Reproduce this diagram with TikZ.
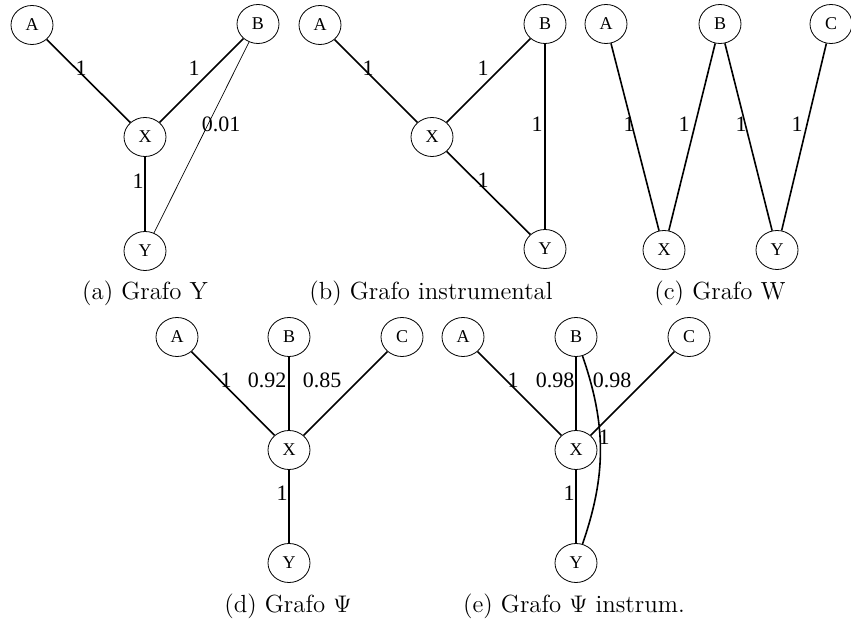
\documentclass[tikz,border=0pt]{standalone}
\usepackage{fontspec}
\newfontfamily\labelfont{Liberation Serif}
\usetikzlibrary{shapes.geometric}
\begin{document}
\begin{tikzpicture}[x=.5pt,y=-.5pt,line width=.8pt,
  var/.style={ellipse,draw,line width=.4pt,minimum width=21pt,minimum height=19.5pt,inner sep=0pt,font=\labelfont\fontsize{9}{9}\selectfont},
  wt/.style={inner sep=0pt,font=\labelfont\fontsize{11}{11}\selectfont},
  captext/.style={font=\fontsize{12.4}{14}\selectfont}]
\useasboundingbox (0,0) rectangle (851,630);
% (a) Grafo Y
\node[var] (aA) at (32,25) {A}; \node[var] (aB) at (258,24) {B};
\node[var] (aX) at (145,137) {X}; \node[var] (aY) at (145,251) {Y};
\draw (aA)--(aX); \draw (aB)--(aX); \draw (aX)--(aY); \draw[line width=.35pt] (aB)--(aY);
\node[wt] (aw1) at (81,68) {1}; \node[wt] (aw2) at (194,68) {1};
\node[wt] (aw3) at (221,124) {0.01}; \node[wt] (aw4) at (138,181) {1};
\node[captext] (capa) at (145,293) {(a) Grafo Y};
% (b) Grafo instrumental
\node[var] (bA) at (320,25) {A}; \node[var] (bB) at (545,24) {B};
\node[var] (bX) at (432,137) {X}; \node[var] (bY) at (545,249) {Y};
\draw (bA)--(bX); \draw (bX)--(bB); \draw (bB)--(bY); \draw (bX)--(bY);
\node[wt] (bw1) at (368,68) {1}; \node[wt] (bw2) at (483,68) {1};
\node[wt] (bw3) at (537,124) {1}; \node[wt] (bw4) at (483,180) {1};
\node[captext] (capb) at (431,293) {(b) Grafo instrumental};
% (c) Grafo W
\node[var] (cA) at (606,24) {A}; \node[var] (cB) at (720,24) {B}; \node[var] (cC) at (831,24) {C};
\node[var] (cX) at (664,250) {X}; \node[var] (cY) at (777,250) {Y};
\draw (cA)--(cX); \draw (cB)--(cX); \draw (cB)--(cY); \draw (cC)--(cY);
\node[wt] (cw1) at (629,124) {1}; \node[wt] (cw2) at (684,124) {1};
\node[wt] (cw3) at (741,124) {1}; \node[wt] (cw4) at (797,124) {1};
\node[captext] (capc) at (720,293) {(c) Grafo W};
% (d) Grafo Psi
\node[var] (dA) at (177,337) {A}; \node[var] (dB) at (289,337) {B}; \node[var] (dC) at (402,337) {C};
\node[var] (dX) at (289,450) {X}; \node[var] (dY) at (289,563) {Y};
\draw (dA)--(dX); \draw (dB)--(dX); \draw (dC)--(dX); \draw (dX)--(dY);
\node[wt] (dw1) at (226,380) {1}; \node[wt] (dw2) at (267,380) {0.92};
\node[wt] (dw3) at (322,380) {0.85}; \node[wt] (dw4) at (282,493) {1};
\node[captext] (capd) at (288,606) {(d) Grafo $\Psi$};
% (e) Grafo Psi instrum.
\node[var] (eA) at (463,337) {A}; \node[var] (eB) at (576,337) {B}; \node[var] (eC) at (689,337) {C};
\node[var] (eX) at (576,450) {X}; \node[var] (eY) at (576,563) {Y};
\draw (eA)--(eX); \draw (eB)--(eX); \draw (eC)--(eX); \draw (eX)--(eY);
\draw (eB) to[bend left=19] (eY);
\node[wt] (ew1) at (513,380) {1}; \node[wt] (ew2) at (555,380) {0.98};
\node[wt] (ew3) at (612,380) {0.98}; \node[wt] (ew4) at (604,437) {1};
\node[wt] (ew5) at (569,493) {1};
\node[captext] (cape) at (574,606) {(e) Grafo $\Psi$ instrum.};
\end{tikzpicture}
\end{document}
